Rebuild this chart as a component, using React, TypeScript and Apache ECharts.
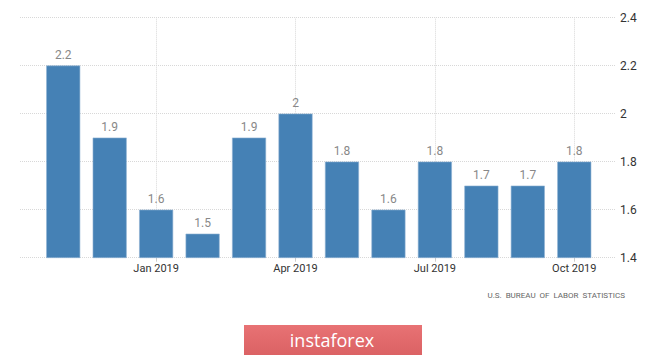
import React, { useEffect, useRef } from "react";
import * as echarts from "echarts";

const months = [
  "Nov 2018", "Dec 2018", "Jan 2019", "Feb 2019", "Mar 2019", "Apr 2019",
  "May 2019", "Jun 2019", "Jul 2019", "Aug 2019", "Sep 2019", "Oct 2019",
];
const values = [2.2, 1.9, 1.6, 1.5, 1.9, 2, 1.8, 1.6, 1.8, 1.7, 1.7, 1.8];
const yMin = 1.4;
const yMax = 2.4;
const yStep = 0.2;
const sourceText = "U.S.  BUREAU  OF  LABOR  STATISTICS";
const brandText = "instaforex";

export default function App() {
  const ref = useRef<HTMLDivElement>(null);
  useEffect(() => {
    document.body.style.margin = "0";
    if (!ref.current) return;
    const chart = echarts.init(ref.current, null, { renderer: "svg" });
    const showEvery3 = (i: number) => i % 3 === 2;
    const quarterMonths = months.filter((_, i) => showEvery3(i));
    chart.setOption({
      animation: false,
      backgroundColor: "#ffffff",
      grid: [
        { left: 20, right: 50, top: 17.5, bottom: 98.3 },
        { left: 40, right: 67.5, top: 17.5, bottom: 98.3 },
      ],
      xAxis: [
        { type: "value", gridIndex: 0, show: false, min: 0, max: 1 },
        {
          type: "category",
          gridIndex: 1,
          data: months,
          axisLine: { show: false },
          axisTick: {
            show: true,
            alignWithLabel: true,
            interval: showEvery3,
            length: 4,
            lineStyle: { color: "#cccccc" },
          },
          axisLabel: {
            interval: showEvery3,
            color: "#333333",
            fontSize: 11,
            fontFamily: "Roboto",
            margin: 5,
          },
          splitLine: { show: false },
        },
      ],
      yAxis: [
        {
          type: "value",
          gridIndex: 0,
          position: "right",
          min: yMin,
          max: yMax,
          interval: yStep,
          axisLine: { show: false },
          axisTick: { show: false },
          axisLabel: {
            color: "#333333",
            fontSize: 12,
            fontFamily: "Roboto",
            margin: 5,
            formatter: (v: number) => String(Math.round(v * 10) / 10),
          },
          splitLine: { show: true, lineStyle: { color: "#d8d8d8", type: "dotted", width: 1 } },
        },
        {
          type: "value",
          gridIndex: 1,
          min: yMin,
          max: yMax,
          interval: yStep,
          show: false,
          splitLine: { show: false },
        },
      ],
      series: [
        {
          type: "bar",
          xAxisIndex: 1,
          yAxisIndex: 1,
          data: values,
          barWidth: 34,
          z: 3,
          itemStyle: { color: "#4581b5", borderColor: "#8fb2d4", borderWidth: 0.6 },
          label: {
            show: true,
            position: "top",
            distance: 5,
            color: "#888888",
            fontSize: 12,
            fontFamily: "Roboto",
          },
          markLine: {
            silent: true,
            symbol: "none",
            z: 1,
            label: { show: false },
            lineStyle: { color: "#d8d8d8", type: "dotted", width: 1 },
            data: quarterMonths.map((m) => ({ xAxis: m })),
          },
        },
      ],
      graphic: [
        {
          type: "text",
          right: 40,
          top: 291.5,
          style: {
            text: sourceText,
            fill: "#666666",
            fontSize: 8,
            fontFamily: "Roboto",
          },
        },
        {
          type: "rect",
          left: 244,
          top: 325,
          shape: { width: 178, height: 30 },
          style: {
            fill: new echarts.graphic.LinearGradient(0, 0, 0, 1, [
              { offset: 0, color: "#e87274" },
              { offset: 1, color: "#db6264" },
            ]),
          },
        },
        {
          type: "text",
          x: 332,
          y: 340,
          style: {
            text: brandText,
            fill: "#ffffff",
            fontSize: 18,
            fontFamily: "Open Sans",
            align: "center",
            verticalAlign: "middle",
          },
        },
      ],
    });
    return () => chart.dispose();
  }, []);
  return <div ref={ref} style={{ width: 665, height: 356 }} />;
}
